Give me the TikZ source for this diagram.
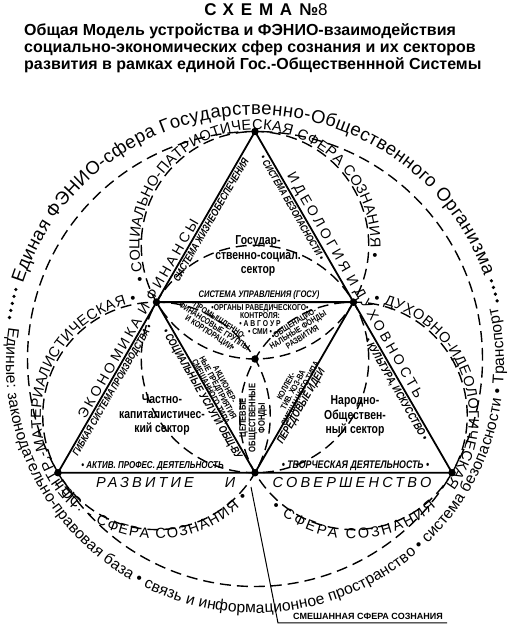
\documentclass[tikz,border=0pt]{standalone}
\usepackage{fontspec}
\setmainfont{Liberation Sans}
\newfontfamily\condfont[FakeStretch=0.8]{Liberation Sans}
\usetikzlibrary{calc,decorations.text}
\newcommand\myfs[1]{\fontsize{#1}{#1}\selectfont}
\newcommand\myfsl[2]{\fontsize{#1}{#2}\selectfont}
\begin{document}
\begin{tikzpicture}[x=1pt,y=1pt,
  tri/.style={line width=1.8pt, line join=miter},
  dcirc/.style={line width=1.4pt, dash pattern=on 11pt off 6pt},
  vdot/.style={circle, fill=black, inner sep=0pt, minimum size=7.5pt},
  sdot/.style={circle, fill=black, inner sep=0pt, minimum size=3.6pt},
  edgebig/.style={font=\myfs{14}\addfontfeatures{LetterSpace=22}, inner sep=2.5pt},
  edgesmall/.style={font=\condfont\bfseries\itshape\myfs{#1}, inner sep=2pt},
  devlab/.style={font=\itshape\myfs{14.5}\addfontfeatures{LetterSpace=22}, inner sep=0pt},
  sector/.style={font=\condfont\bfseries\myfsl{13}{14.5}, align=center, inner sep=0pt},
  centerlab/.style={font=\condfont\bfseries\myfsl{#1}{8}, align=center, inner sep=0pt},
  head/.style={font=\bfseries\myfs{16}, anchor=base west, inner sep=0pt}
]
\fill[white] (0,0) rectangle (510,626);
\useasboundingbox (0,0) rectangle (510,626);

% geometry
\coordinate (O) at (255,267);
\coordinate (Ob) at (255,262);
\coordinate (A) at ($(O)+(90:227.5pt)$);
\coordinate (BL) at ($(O)+(210:227.5pt)$);
\coordinate (BR) at ($(O)+(330:227.5pt)$);
\coordinate (ML) at ($(A)!0.5!(BL)$);
\coordinate (MR) at ($(A)!0.5!(BR)$);
\coordinate (MB) at ($(BL)!0.5!(BR)$);
\coordinate (Ct) at ($(O)+(90:113.75pt)$);
\coordinate (Cl) at ($(O)+(210:113.75pt)$);
\coordinate (Cr) at ($(O)+(330:113.75pt)$);

% dashed circles
\draw[dcirc] (O) circle[radius=227.5pt];
\draw[dcirc] (Ct) circle[radius=113.75pt];
\draw[dcirc] (Cl) circle[radius=113.75pt];
\draw[dcirc] (Cr) circle[radius=113.75pt];
\draw[dcirc] (O) circle[radius=113.75pt];

% triangles
\draw[tri] (A) -- (BL) -- (BR) -- cycle;
\draw[tri] (ML) -- (MR) -- (MB) -- cycle;

% title
\node[font=\bfseries\myfs{17}] (title) at (266,616) {{\addfontfeatures{LetterSpace=40}СХЕМА}\hspace{7pt}№{\mdseries 8}};
\node[head] (h1) at (24,590.5) {Общая Модель устройства и ФЭНИО-взаимодействия};
\node[head] (h2) at (24,573.5) {социально-экономических сфер сознания и их секторов};
\node[head] (h3) at (24,556.5) {развития в рамках единой Гос.-Общественнной Системы};

% outer ring texts
\path[decorate, decoration={text along path,
  text={|\myfs{18.5}|Единая ФЭНИО-сфера Государственно-Общественного Организма},
  text align={fit to path}}]
  ($(O)+(162:244pt)$) arc[start angle=162, end angle=20, radius=244pt];
\path[decorate, decoration={text along path,
  text={|\myfs{15.6}|Единые: законодательно-правовая база • связь и информационное пространство • система безопасности • Транспорт},
  text align={fit to path}}]
  ($(Ob)+(171.5:249pt)$) arc[start angle=171.5, end angle=373, radius=249pt];
\foreach \a in {163.8,165.45,167.1,168.75,170.4,13.5,15.1,16.7,18.3}
  \node[sdot] at ($(O)+(\a:249pt)$) {};

% circle texts
\path[decorate, decoration={text along path,
  text={|\myfs{14.5}|• СОЦИАЛЬНО-ПАТРИОТИЧЕСКАЯ СФЕРА СОЗНАНИЯ •},
  text align={fit to path}}]
  ($(Ct)+(198:115.5pt)$) arc[start angle=198, end angle=-6, radius=115.5pt];
\path[decorate, decoration={text along path,
  text={|\myfs{14.5}|• ДУХОВНО-ИДЕОЛОГИЧЕСКАЯ},
  text align={fit to path}}]
  ($(Cr)+(80:115.5pt)$) arc[start angle=80, end angle=-37, radius=115.5pt];
\path[decorate, decoration={text along path,
  text={|\myfs{14.5}|ЦЕНТР.-МАТЕРИАЛИСТИЧЕСКАЯ •},
  text align={fit to path}}]
  ($(Cl)+(228:115.5pt)$) arc[start angle=228, end angle=100, radius=115.5pt];
\path[decorate, decoration={text along path,
  text={|\myfs{14.5}|• СФЕРА СОЗНАНИЯ},
  text align={fit to path}}]
  ($(Cr)+(228:123pt)$) arc[start angle=228, end angle=312, radius=123pt];
\path[decorate, decoration={text along path,
  text={|\myfs{14.5}|ГОС. - СФЕРА СОЗНАНИЯ •},
  text align={fit to path}}]
  ($(Cl)+(214:123pt)$) arc[start angle=214, end angle=318, radius=123pt];

% big edge labels
\node[edgebig, rotate=60, anchor=south] (econ) at ($(BL)!0.44!(A)$) {ЭКОНОМИКА\hspace{6pt}И\hspace{6pt}ФИНАНСЫ};
\node[edgebig, rotate=-60, anchor=south] (ideol) at ($(A)!0.465!(BR)$) {ИДЕОЛОГИЯ\hspace{6pt}И\hspace{6pt}ДУХОВНОСТЬ};

% small edge labels
\node[edgesmall=10.5, rotate=60, anchor=north] (zhizn) at ($(BL)!0.75!(A)$) {СИСТЕМА ЖИЗНЕОБЕСПЕЧЕНИЯ};
\node[edgesmall=10, rotate=-60, anchor=north] (bezop) at ($(A)!0.215!(BR)$) {• СИСТЕМА БЕЗОПАСНОСТИ •};
\node[edgesmall=10, rotate=60, anchor=north] (gibk) at ($(BL)!0.25!(A)$) {ГИБКАЯ СИСТЕМА ПРОИЗВОДСТВА •};
\node[edgesmall=11, rotate=-60, anchor=north] (kult) at ($(A)!0.745!(BR)$) {• КУЛЬТУРА, ИСКУССТВО •};
\node[edgesmall=9.5, anchor=south] (uprav) at ($(ML)!0.52!(MR)$) {СИСТЕМА УПРАВЛЕНИЯ (ГОСУ)};
\node[edgesmall=10, anchor=south] (aktiv) at ($(BL)!0.24!(BR)$) {• АКТИВ. ПРОФЕС. ДЕЯТЕЛЬНОСТЬ};
\node[edgesmall=11, anchor=south] (tvor) at ($(BL)!0.755!(BR)$) {• ТВОРЧЕСКАЯ ДЕЯТЕЛЬНОСТЬ •};
\node[edgesmall=11, rotate=-60, anchor=north] (socusl) at ($(ML)!0.52!(MB)$) {• СОЦИАЛЬНЫЕ УСЛУГИ ОБЩ-ВУ};
\node[edgesmall=11, rotate=60, anchor=north] (pered) at ($(MB)!0.41!(MR)$) {ПЕРЕДОВЫЕ ИДЕИ};

% development / perfection
\node[devlab] (razv) at (145,143) {РАЗВИТИЕ};
\node[devlab] (razvi) at (230,143) {И};
\node[devlab] (sover) at (352,143) {СОВЕРШЕНСТВО};

% sector labels
\node[sector] (gos) at (258,370) {Государ-\\ственно-социал.\\сектор};
\node[sector] (chast) at (162,211) {Частно-\\капиталистичес-\\кий сектор};
\node[sector] (narod) at (355,210) {Народно-\\Обществен-\\ный сектор};

% centre labels
\node[centerlab=8.5] (organy) at (260,306) {•ОРГАНЫ РАВЕДИЧЕСКОГО•\\КОНТРОЛЯ:\\• А В Г О У Р\\• СМИ •};
\node[centerlab=8.5, rotate=-33] (prom) at (214,299) {•ПРОМЫШЛЕННО-\\ФИНАНСОВЫЕ ГРУППЫ\\И КОРПОРАЦИИ•};
\node[centerlab=8.5, rotate=32] (obsh) at (298,296) {•ОБЩЕНАЦИО-\\НАЛЬНЫЕ ФОНДЫ\\РАЗВИТИЯ};
\node[centerlab=9.5, rotate=90] (cel) at (253,208) {ЦЕЛЕВЫЕ\\ОБЩЕСТВЕННЫЕ\\ФОНДЫ};
\node[centerlab=8.5, rotate=-62] (akc) at (218,238) {АКЦИОНЕР-\\НЫЕ ПРЕДПРИЯТИЯ\\СМЕШАННОГО ТИПА};
\node[centerlab=8.5, rotate=62] (koll) at (293,236) {КОЛЛЕК-\\ТИВ. ХОЗ-ВА\\СМЕШАННОГО ТИПА};

% vertex dots
\node[vdot] (dA) at (A) {};
\node[vdot] (dBL) at (BL) {};
\node[vdot] (dBR) at (BR) {};
\node[vdot] (dML) at (ML) {};
\node[vdot] (dMR) at (MR) {};
\node[vdot] (dMB) at (MB) {};
\node[vdot] (dO) at (O) {};

% mixed sphere leader
\coordinate (mixs) at (251,139);
\coordinate (mixc) at (278,3);
\coordinate (mixe) at (447,3);
\draw[line width=1pt] (mixs) -- (mixc) -- (mixe);
\node[font=\bfseries\myfs{9}, anchor=base west, inner sep=0pt] (mixlab) at (293,6.5) {СМЕШАННАЯ СФЕРА СОЗНАНИЯ};
\end{tikzpicture}
\end{document}
